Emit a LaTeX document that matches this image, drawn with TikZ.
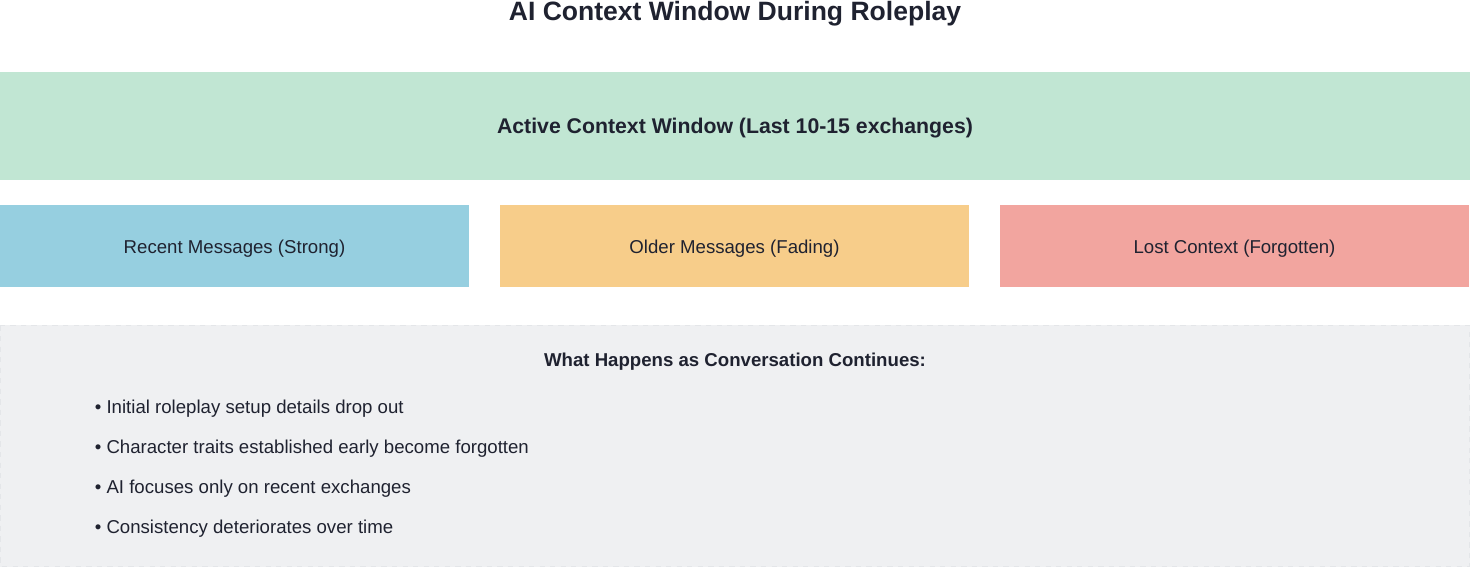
\documentclass[tikz,border=0pt]{standalone}
\usepackage{fontspec}
\setmainfont{Liberation Sans}
\usepackage{xcolor}
\usetikzlibrary{positioning}

\definecolor{inkdark}{HTML}{1F2230}
\definecolor{activegreen}{HTML}{C1E6D3}
\definecolor{recentblue}{HTML}{96CFE0}
\definecolor{olderorange}{HTML}{F7CD8A}
\definecolor{lostred}{HTML}{F2A59F}
\definecolor{notegray}{HTML}{EFF0F2}
\definecolor{noteedge}{HTML}{E4E6E9}

\tikzset{
  boxtext/.style={text=inkdark, font=\fontsize{10.6}{13}\selectfont, anchor=base, inner sep=0pt},
  headtext/.style={boxtext, font=\bfseries\fontsize{12.1}{14}\selectfont},
  titletext/.style={boxtext, font=\bfseries\fontsize{15.1}{18}\selectfont},
  bullettext/.style={boxtext, anchor=base west}
}

\begin{document}
\begin{tikzpicture}[x=0.02cm, y=-0.02cm]
  \useasboundingbox (0,0) rectangle (1470,567);

  % Title
  \node[titletext] (title) at (735,21) {AI Context Window During Roleplay};

  % Active context window
  \fill[activegreen] (0,72) rectangle (1470,180);
  \node[headtext] (active) at (735,134) {Active Context Window (Last 10-15 exchanges)};

  % Recent messages
  \fill[recentblue] (0,205) rectangle (469,287);
  \node[boxtext] (recent) at (234.5,253.5) {Recent Messages (Strong)};

  % Older messages
  \fill[olderorange] (500,205) rectangle (969,287);
  \node[boxtext] (older) at (734.5,253.5) {Older Messages (Fading)};

  % Lost context
  \fill[lostred] (1000,205) rectangle (1469,287);
  \node[boxtext] (lost) at (1234.5,253.5) {Lost Context (Forgotten)};

  % What happens
  \fill[notegray] (0,325) rectangle (1470,567);
  \draw[noteedge, dashed, line width=0.6pt] (0.5,325.5) rectangle (1469.5,566.5);
  \node[headtext, font=\bfseries\fontsize{10.6}{13}\selectfont] (happens) at (735,366) {What Happens as Conversation Continues:};

  \node[bullettext] (setup) at (94.5,413.5) {• Initial roleplay setup details drop out};
  \node[bullettext] (traits) at (94.5,453.5) {• Character traits established early become forgotten};
  \node[bullettext] (focus) at (94.5,493.5) {• AI focuses only on recent exchanges};
  \node[bullettext] (drift) at (94.5,533.5) {• Consistency deteriorates over time};
\end{tikzpicture}
\end{document}
